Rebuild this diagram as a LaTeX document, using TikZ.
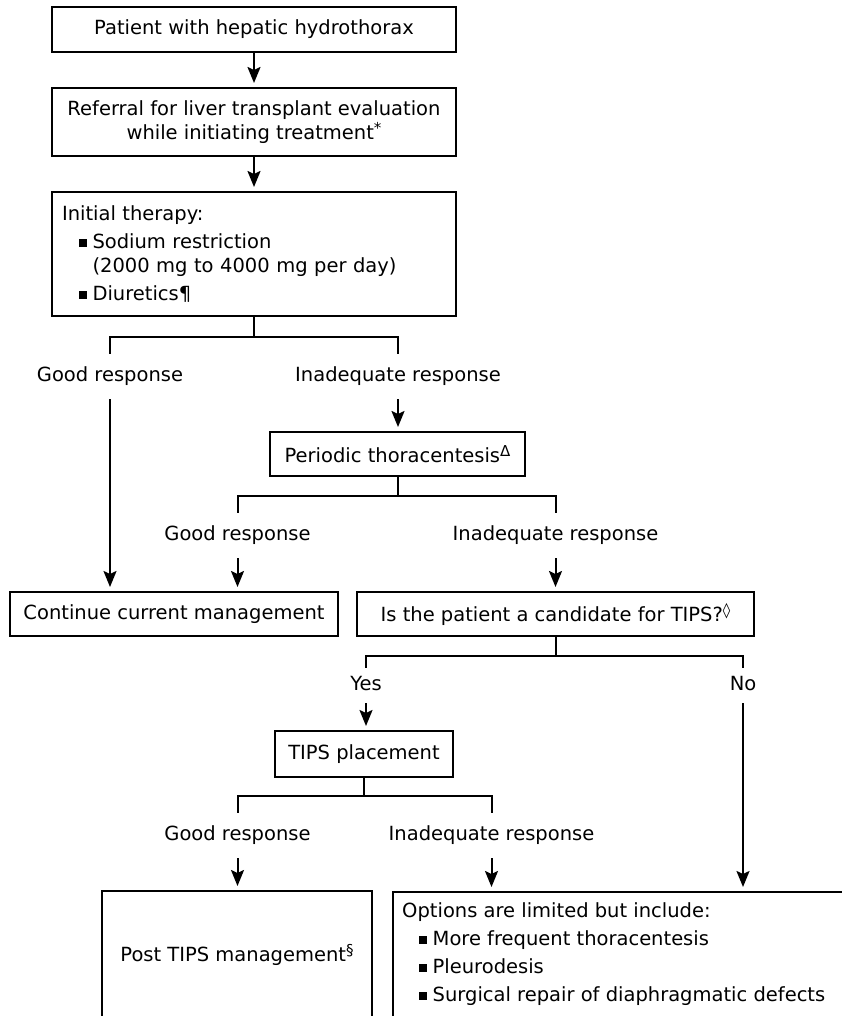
\documentclass[tikz,border=0pt]{standalone}
\usepackage{fontspec}
\setmainfont{DejaVu Sans}
\usetikzlibrary{arrows.meta}
\newcommand{\sqb}{\rule[1.5pt]{7.5pt}{7.5pt}}
\newcommand{\supx}[1]{\raisebox{6pt}{\fontsize{15}{15}\selectfont #1}}
\begin{document}
\begin{tikzpicture}[x=1pt,y=-1pt,
  every node/.style={font=\fontsize{19.5}{24}\selectfont, text=black},
  box/.style={draw, line width=2pt, inner sep=0pt, align=center},
  lbl/.style={inner sep=0pt, text height=27pt, text depth=18pt, anchor=base},
  lblyn/.style={inner sep=0pt, text height=22pt, text depth=13pt, anchor=base},
  ln/.style={line width=2pt},
  arr/.style={line width=2pt, -{Stealth[length=16pt,width=13pt,inset=3pt]}, shorten >=4pt},
]
\useasboundingbox[fill=white] (0,0) rectangle (841,1016);

% boxes
\node[box, minimum width=404pt, minimum height=45pt] (b1) at (254,29.5) {Patient with hepatic hydrothorax};
\node[box, minimum width=404pt, minimum height=68pt] (b2) at (254,122) {Referral for liver transplant evaluation\\while initiating treatment\supx{*}};
\node[box, minimum width=404pt, minimum height=124pt, text width=384pt, inner xsep=10pt, align=left] (b3) at (254,254)
  {Initial therapy:\\[4pt]
   \hspace*{17pt}\sqb\hspace{6pt}Sodium restriction\\
   \hspace*{30.5pt}(2000 mg to 4000 mg per day)\\[4pt]
   \hspace*{17pt}\sqb\hspace{6pt}Diuretics¶};
\node[box, minimum width=255pt, minimum height=44pt] (per) at (397.5,454) {Periodic thoracentesis\supx{Δ}};
\node[box, minimum width=328pt, minimum height=44pt] (cont) at (174,614) {Continue current management};
\node[box, minimum width=397pt, minimum height=44pt] (tq) at (555.5,614) {Is the patient a candidate for TIPS?\supx{◊}};
\node[box, minimum width=177.5pt, minimum height=46pt] (tp) at (364,754) {TIPS placement};
\node[box, minimum width=270pt, minimum height=128pt] (post) at (237,955) {Post TIPS management\supx{§}};
\node[box, minimum width=470pt, minimum height=140pt, anchor=north west] (opt) at (392,891) {};
\node[anchor=north west, align=left, inner sep=0pt] (optt) at (402,902)
  {Options are limited but include:\\[4pt]
   \hspace*{17pt}\sqb\hspace{6pt}More frequent thoracentesis\\[4pt]
   \hspace*{17pt}\sqb\hspace{6pt}Pleurodesis\\[4pt]
   \hspace*{17pt}\sqb\hspace{6pt}Surgical repair of diaphragmatic defects};

% labels
\node[lbl] (g1) at (110,381) {Good response};
\node[lbl] (i1) at (398,381) {Inadequate response};
\node[lbl] (g2) at (237.5,540) {Good response};
\node[lbl] (i2) at (555.5,540) {Inadequate response};
\node[lblyn] (yes) at (366,690) {Yes};
\node[lblyn] (no) at (743,690) {No};
\node[lbl] (g3) at (237.5,840) {Good response};
\node[lbl] (i3) at (491.5,840) {Inadequate response};

% connectors
\draw[arr] (b1) -- (b2);
\draw[arr] (b2) -- (b3);
\draw[ln] (b3.south) -- ++(0,20) coordinate (j1);
\draw[ln] (g1.north) |- (j1) -| (i1.north);
\draw[arr] (g1.south) -- (g1.south |- cont.north);
\draw[arr] (i1.south) -- (i1.south |- per.north);
\draw[ln] (per.south) -- ++(0,19) coordinate (j2);
\draw[ln] (g2.north) |- (j2) -| (i2.north);
\draw[arr] (g2.south) -- (g2.south |- cont.north);
\draw[arr] (i2.south) -- (i2.south |- tq.north);
\draw[ln] (tq.south) -- ++(0,19) coordinate (j3);
\draw[ln] (yes.north) |- (j3) -| (no.north);
\draw[arr] (yes.south) -- (yes.south |- tp.north);
\draw[arr] (no.south) -- (no.south |- opt.north);
\draw[ln] (tp.south) -- ++(0,18) coordinate (j4);
\draw[ln] (g3.north) |- (j4) -| (i3.north);
\draw[arr] (g3.south) -- (g3.south |- post.north);
\draw[arr] (i3.south) -- (i3.south |- opt.north);
\end{tikzpicture}
\end{document}
